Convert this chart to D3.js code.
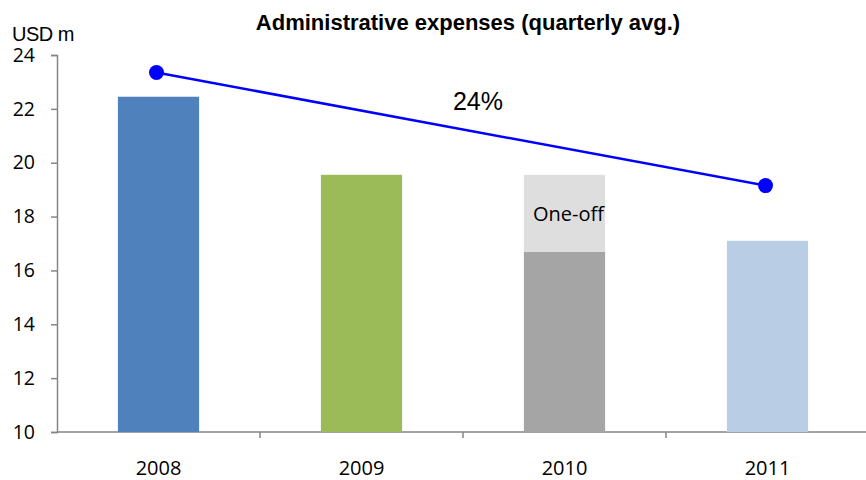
<!DOCTYPE html>
<html lang="en">
<head>
    <meta charset="UTF-8">
    <title>Administrative expenses</title>
    <style>
        body { margin: 0; background: #fff; }
    </style>
</head>
<body>
    <div id="chart"></div>

    <script src="https://cdn.jsdelivr.net/npm/d3@7"></script>

    <script>
        const years = ["2008", "2009", "2010", "2011"];
        const baseValues = [22.45, 19.55, 16.7, 17.1];
        const oneOffValues = [0, 0, 2.85, 0];
        const barColors = ["#4F81BD", "#9BBB59", "#A5A5A5", "#B9CDE5"];
        const trendYears = ["2008", "2011"];
        const trendValues = [23.35, 19.15];
        const yTicks = [10, 12, 14, 16, 18, 20, 22, 24];

        const width = 866, height = 480;
        const plotLeft = 57, plotRight = 869, plotTop = 55, plotBottom = 432;

        const svg = d3.select("#chart")
            .append("svg")
            .attr("width", width)
            .attr("height", height);

        const x = d3.scaleBand()
            .domain(years)
            .range([plotLeft, plotRight])
            .paddingInner(0.6)
            .paddingOuter(0.3);

        const y = d3.scaleLinear()
            .domain([10, 24])
            .range([plotBottom, plotTop]);

        // y axis
        const yAxis = svg.append("g")
            .attr("transform", `translate(${plotLeft},0)`)
            .call(d3.axisLeft(y).tickValues(yTicks).tickSize(6).tickPadding(16));
        yAxis.select(".domain").attr("stroke", "#868686").attr("stroke-width", 1.5);
        yAxis.selectAll(".tick line").attr("stroke", "#868686").attr("stroke-width", 1.5);
        yAxis.selectAll(".tick text")
            .attr("font-family", "Open Sans, sans-serif")
            .attr("font-size", "19.5px")
            .attr("fill", "#000");

        // x axis (ticks at category boundaries)
        const step = x.step();
        const bounds = d3.range(years.length).map(i => plotLeft + i * step);
        svg.append("line")
            .attr("x1", plotLeft).attr("x2", width)
            .attr("y1", plotBottom).attr("y2", plotBottom)
            .attr("stroke", "#868686").attr("stroke-width", 1.5);
        svg.selectAll(".xtick")
            .data(bounds.slice(1))
            .enter()
            .append("line")
            .attr("x1", d => d).attr("x2", d => d)
            .attr("y1", plotBottom).attr("y2", plotBottom + 6)
            .attr("stroke", "#868686").attr("stroke-width", 1.5);
        svg.selectAll(".xlabel")
            .data(years)
            .enter()
            .append("text")
            .attr("x", d => x(d) + x.bandwidth() / 2)
            .attr("y", 475)
            .attr("text-anchor", "middle")
            .attr("font-family", "Open Sans, sans-serif")
            .attr("font-size", "20px")
            .text(d => d);

        // bars
        svg.selectAll(".bar")
            .data(years)
            .enter()
            .append("rect")
            .attr("x", d => x(d))
            .attr("width", x.bandwidth())
            .attr("y", (d, i) => y(baseValues[i]))
            .attr("height", (d, i) => y(10) - y(baseValues[i]))
            .attr("fill", (d, i) => barColors[i]);

        svg.selectAll(".oneoff")
            .data(years.filter((d, i) => oneOffValues[i] > 0))
            .enter()
            .append("rect")
            .attr("x", d => x(d))
            .attr("width", x.bandwidth())
            .attr("y", d => { const i = years.indexOf(d); return y(baseValues[i] + oneOffValues[i]); })
            .attr("height", d => { const i = years.indexOf(d); return y(baseValues[i]) - y(baseValues[i] + oneOffValues[i]); })
            .attr("fill", "#DEDEDE");

        svg.append("text")
            .attr("x", x("2010") + x.bandwidth() / 2 + 4)
            .attr("y", y(baseValues[2] + oneOffValues[2] / 2) + 8)
            .attr("text-anchor", "middle")
            .attr("font-family", "Open Sans, sans-serif")
            .attr("font-size", "20px")
            .text("One-off");

        // trend line
        const tx = d => x(d) + x.bandwidth() / 2 - 2;
        const trend = trendYears.map((d, i) => [tx(d), y(trendValues[i])]);
        svg.append("path")
            .attr("d", d3.line()(trend))
            .attr("fill", "none")
            .attr("stroke", "#0000FF")
            .attr("stroke-width", 2.5);
        svg.selectAll(".dot")
            .data(trend)
            .enter()
            .append("circle")
            .attr("cx", d => d[0])
            .attr("cy", d => d[1])
            .attr("r", 7.5)
            .attr("fill", "#0000FF");

        svg.append("text")
            .attr("x", 478)
            .attr("y", 110)
            .attr("text-anchor", "middle")
            .attr("font-family", "Arial, Liberation Sans, sans-serif")
            .attr("font-size", "25px")
            .text("24%");

        // title and unit
        svg.append("text")
            .attr("x", 468)
            .attr("y", 30)
            .attr("text-anchor", "middle")
            .attr("font-family", "Arial, Liberation Sans, sans-serif")
            .attr("font-weight", "bold")
            .attr("font-size", "22px")
            .text("Administrative expenses (quarterly avg.)");

        svg.append("text")
            .attr("x", 12)
            .attr("y", 41)
            .attr("font-family", "Arial, Liberation Sans, sans-serif")
            .attr("font-size", "20px")
            .attr("letter-spacing", "-0.5px")
            .text("USD m");
    </script>
</body>
</html>
